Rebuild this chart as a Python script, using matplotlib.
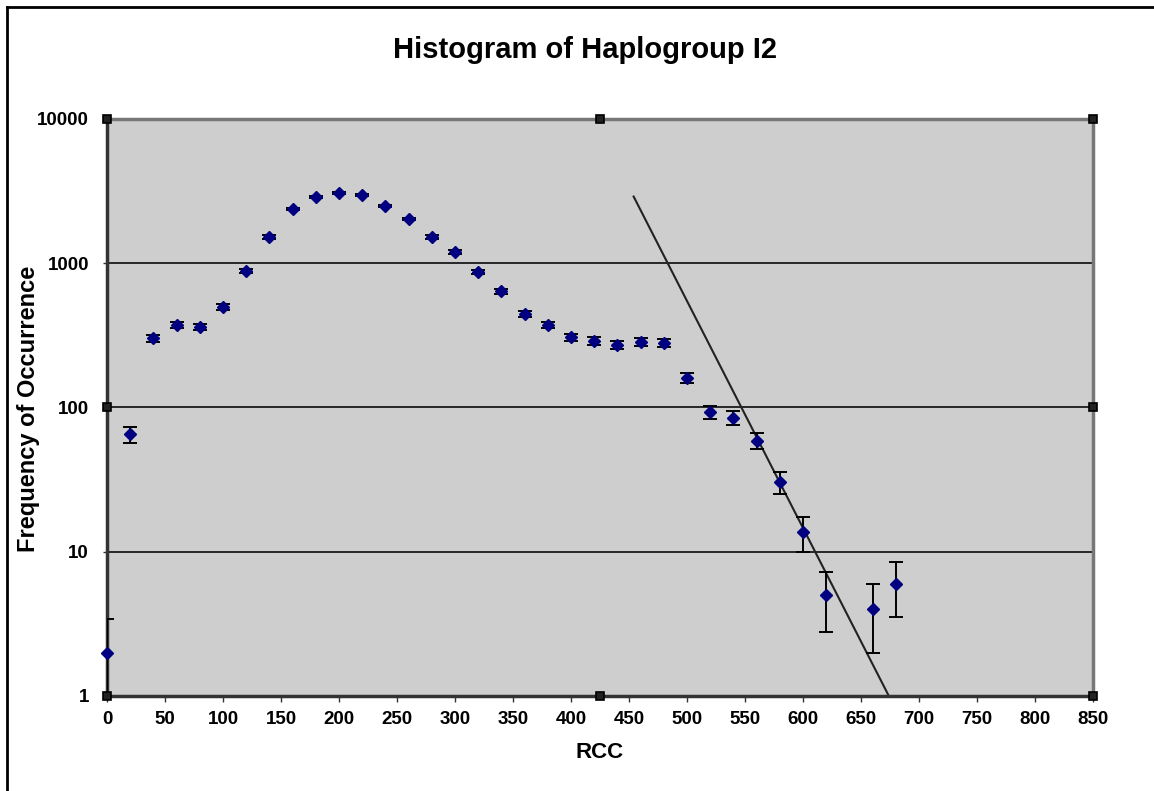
import matplotlib
matplotlib.use("Agg")
import matplotlib.pyplot as plt
from matplotlib.lines import Line2D

plt.rcParams['font.family'] = ['Liberation Sans', 'DejaVu Sans']

# Data
rcc = [0, 20, 40, 60, 80, 100, 120, 140, 160, 180, 200, 220, 240, 260, 280,
       300, 320, 340, 360, 380, 400, 420, 440, 460, 480, 500, 520, 540, 560,
       580, 600, 620, 660, 680]
freq = [2, 65, 303, 373, 361, 497, 884, 1521, 2378, 2880, 3070, 2973, 2495,
        2026, 1521, 1197, 869, 642, 445, 373, 308, 289, 271, 285, 280, 160,
        93, 85, 59, 30.5, 13.7, 5, 4, 6]
err = [1.4, 8.1, 17.4, 19.3, 19.0, 22.3, 29.7, 39.0, 48.8, 53.7, 55.4, 54.5,
       50.0, 45.0, 39.0, 34.6, 29.5, 25.3, 21.1, 19.3, 17.5, 17.0, 16.5, 16.9,
       16.7, 12.6, 9.6, 9.2, 7.7, 5.5, 3.7, 2.24, 2.0, 2.45]
fit_x = [454, 674]
fit_y = [2900, 1]

x_ticks = list(range(0, 851, 50))
y_ticks = [1, 10, 100, 1000, 10000]
y_ticklabels = ['1', '10', '100', '1000', '10000']

fig = plt.figure(figsize=(11.54, 7.91), dpi=100)
ax = fig.add_axes([107/1154, 1-696/791, (1093-107)/1154, (696-119)/791])
ax.set_facecolor('#cecece')

ax.set_yscale('log')
ax.set_xlim(0, 850)
ax.set_ylim(1, 10000)

for yv in [10, 100, 1000]:
    ax.axhline(yv, color='#1a1a1a', lw=1.3, zorder=1)

ax.plot(fit_x, fit_y, color='#222222', lw=1.5, zorder=2)

lower = [min(e, f - 1e-3) for e, f in zip(err, freq)]
ax.errorbar(rcc, freq, yerr=[lower, err], fmt='none', ecolor='black',
            elinewidth=1.4, capsize=5, capthick=1.4, zorder=3)
ax.plot(rcc, freq, 'D', color='#000080', markersize=6.5, zorder=4,
        clip_on=False)

ax.set_xticks(x_ticks)
ax.set_xticklabels([str(v) for v in x_ticks], fontsize=13.5, fontweight='bold')
ax.set_yticks(y_ticks)
ax.set_yticklabels(y_ticklabels, fontsize=13.5, fontweight='bold')
ax.minorticks_off()
ax.tick_params(axis='x', direction='out', length=4, width=1, color='#333333', pad=7)
ax.tick_params(axis='y', direction='out', length=3, width=1, color='#333333', pad=10)

for side in ['left', 'bottom']:
    ax.spines[side].set_color('#333333')
    ax.spines[side].set_linewidth(2.5)
    ax.spines[side].set_linestyle((0, (1, 1)))
for side in ['top', 'right']:
    ax.spines[side].set_color('#777777')
    ax.spines[side].set_linewidth(2.5)
    ax.spines[side].set_linestyle((0, (1, 1)))

# selection handles
hx = [0, 425, 850, 0, 850, 0, 425, 850]
hy = [10000, 10000, 10000, 100, 100, 1, 1, 1]
ax.plot(hx, hy, 's', color='black', markersize=5.5, markerfacecolor='#222222',
        markeredgewidth=1.2, clip_on=False, zorder=5)

ax.set_xlabel('RCC', fontsize=16, fontweight='bold', labelpad=10)
ax.set_ylabel('Frequency of Occurrence', fontsize=17, fontweight='bold')
ax.yaxis.set_label_coords((40 - 107) / 986, (696 - 409) / 577)

fig.text(585/1154, 1-50/791, 'Histogram of Haplogroup I2', ha='center', va='center',
         fontsize=21, fontweight='bold')

# frame lines of the figure (left and top)
fig.add_artist(Line2D([7/1154, 7/1154], [0, 1-7/791], color='black', lw=2,
                      transform=fig.transFigure))
fig.add_artist(Line2D([7/1154, 1], [1-7/791, 1-7/791], color='black', lw=2,
                      transform=fig.transFigure))

fig.savefig('out.png', dpi=100)
